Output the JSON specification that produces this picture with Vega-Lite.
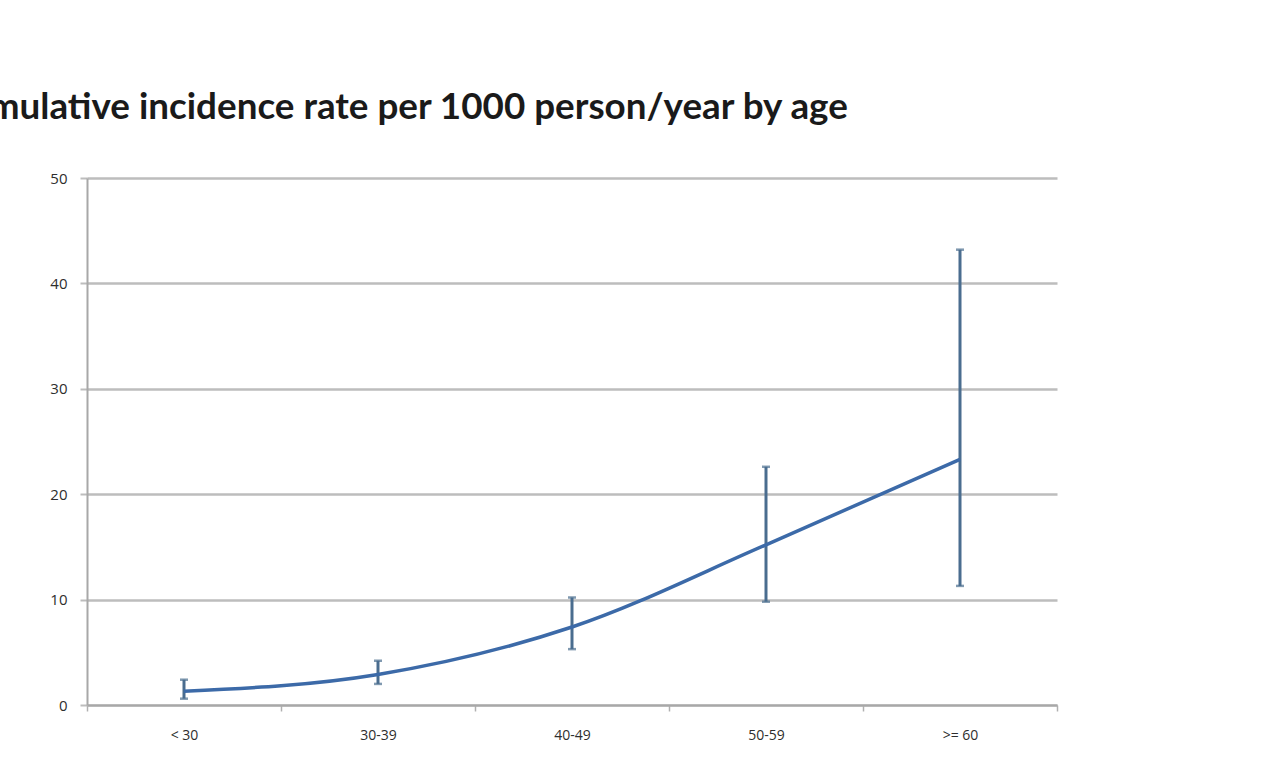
{
  "$schema": "https://vega.github.io/schema/vega-lite/v6.json",
  "autosize": {"type": "none"},
  "width": 970,
  "height": 527,
  "padding": {"left": 87, "top": 178, "right": 217, "bottom": 69},
  "background": "white",
  "title": {
    "text": "Cumulative incidence rate per 1000 person/year by age",
    "anchor": "start",
    "dx": -106,
    "offset": 44,
    "font": "Lato",
    "fontSize": 36.8,
    "fontWeight": "bold",
    "color": "#1a1a1a"
  },
  "data": {
    "values": [
      {"age": "< 30", "rate": 1.3, "lo": 0.6, "hi": 2.4},
      {"age": "30-39", "rate": 2.9, "lo": 2.0, "hi": 4.2},
      {"age": "40-49", "rate": 7.4, "lo": 5.3, "hi": 10.2},
      {"age": "50-59", "rate": 15.2, "lo": 9.8, "hi": 22.6},
      {"age": ">= 60", "rate": 23.3, "lo": 11.3, "hi": 43.2}
    ]
  },
  "encoding": {
    "x": {
      "field": "age",
      "type": "nominal",
      "sort": null,
      "scale": {"paddingInner": 0, "paddingOuter": 0},
      "axis": {
        "title": null,
        "labelAngle": 0,
        "tickBand": "extent",
        "tickSize": 6,
        "tickColor": "#b0b0b0",
        "tickWidth": 1.5,
        "domainColor": "#a8a8a8",
        "domainWidth": 2,
        "labelPadding": 17,
        "labelFont": "Open Sans",
        "labelFontSize": 14,
        "labelColor": "#2e2e2e",
        "grid": false
      }
    }
  },
  "layer": [
    {
      "mark": {"type": "rule", "color": "#4a6d8f", "strokeWidth": 3},
      "encoding": {
        "y": {
          "field": "lo",
          "type": "quantitative",
          "scale": {"domain": [0, 50]},
          "axis": {
            "title": null,
            "values": [0, 10, 20, 30, 40, 50],
            "grid": true,
            "gridColor": "#bdbdbd",
            "gridWidth": 2.5,
            "tickSize": 7,
            "tickColor": "#bdbdbd",
            "tickWidth": 2,
            "domainColor": "#a8a8a8",
            "domainWidth": 2,
            "labelPadding": 13,
            "labelFont": "Open Sans",
            "labelFontSize": 15,
            "labelColor": "#2e2e2e"
          }
        },
        "y2": {"field": "hi"}
      }
    },
    {
      "mark": {"type": "tick", "color": "#4a6d8f", "thickness": 2.5, "size": 8},
      "encoding": {"y": {"field": "lo", "type": "quantitative"}}
    },
    {
      "mark": {"type": "tick", "color": "#4a6d8f", "thickness": 2.5, "size": 8},
      "encoding": {"y": {"field": "hi", "type": "quantitative"}}
    },
    {
      "mark": {"type": "line", "color": "#3c6aa8", "strokeWidth": 3.5, "interpolate": "monotone"},
      "encoding": {"y": {"field": "rate", "type": "quantitative"}}
    }
  ],
  "config": {"view": {"stroke": null}}
}
